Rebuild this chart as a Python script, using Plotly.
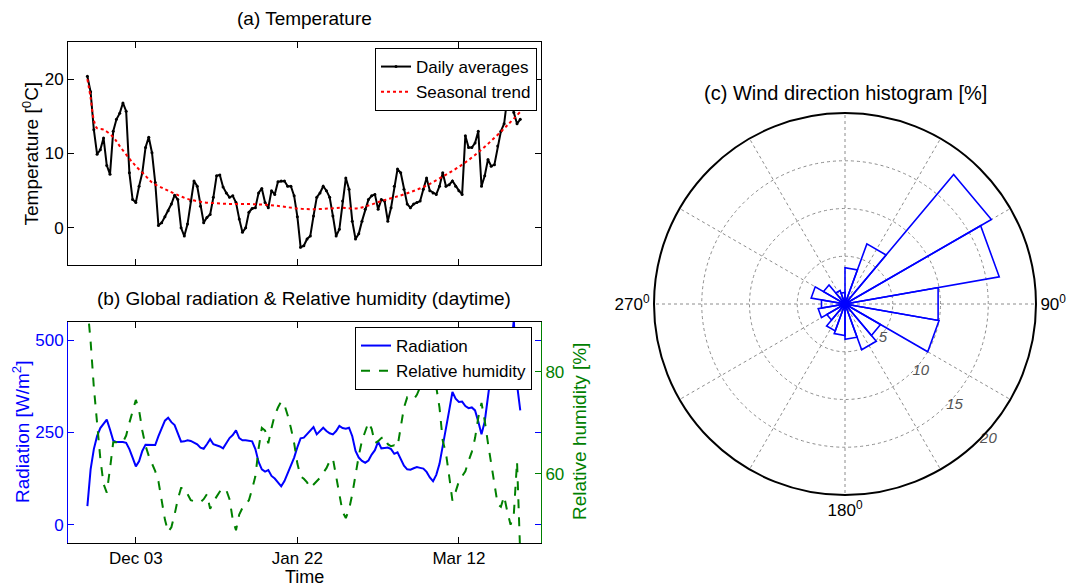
import pandas as pd
import plotly.graph_objects as go

# ---------------- data ----------------
dates = pd.date_range("2011-11-18", "2012-03-31", freq="D")

temperature = [
    20.4, 18.3, 13.2, 9.9, 10.5, 12.1, 8.4, 7.2, 13.0, 14.6, 15.4, 16.8, 15.7, 7.4, 3.8,
    3.4, 5.6, 7.4, 10.8, 12.2, 10.1, 6.1, 0.3, 0.7, 1.5,
    2.3, 3.2, 4.4, 3.8, 0.0, -1.1, 0.5, 3.6, 6.3, 5.6,
    2.9, 0.7, 1.4, 1.8, 4.1, 7.0, 7.1, 5.5, 4.7, 4.1,
    4.3, 3.4, 1.2, -0.6, 0.0, 2.1, 2.6, 2.7, 4.7, 5.3,
    3.4, 2.7, 5.0, 4.5, 6.2, 6.3, 6.3, 5.6, 5.6, 4.3,
    1.5, -2.6, -2.4, -1.5, -1.1, 1.6, 4.1, 4.7, 5.6, 5.0,
    4.1, 1.6, -1.1, -0.2, 3.6, 6.7, 5.2, 0.9, -1.5, -0.8,
    0.9, 2.5, 3.8, 4.3, 4.5, 2.5, 3.8, 3.6, 0.9, 2.7,
    5.6, 7.9, 7.4, 5.2, 3.2, 2.7, 3.2, 3.4, 3.6, 5.2,
    6.7, 5.0, 4.7, 4.5, 5.6, 7.4, 5.6, 5.8, 6.3, 5.6,
    5.0, 4.5, 12.4, 10.8, 10.8, 11.4, 13.0, 5.6, 7.0, 9.2,
    8.3, 8.5, 11.0, 13.0, 14.0, 17.5, 18.2, 15.5, 14.0, 14.6,
]

trend_dates = pd.to_datetime([
    "2011-11-18", "2011-11-19", "2011-11-20", "2011-11-21", "2011-11-23", "2011-11-26",
    "2011-11-28", "2011-12-01", "2011-12-03", "2011-12-06", "2011-12-08", "2011-12-11",
    "2011-12-13", "2011-12-16", "2011-12-19", "2011-12-23", "2011-12-28", "2012-01-02",
    "2012-01-07", "2012-01-12", "2012-01-17", "2012-01-22", "2012-01-27", "2012-02-01",
    "2012-02-05", "2012-02-09", "2012-02-13", "2012-02-17", "2012-02-21", "2012-02-26",
    "2012-03-02", "2012-03-07", "2012-03-12", "2012-03-17", "2012-03-22", "2012-03-27",
    "2012-03-31",
])
trend = [
    20.0, 17.5, 14.5, 13.4, 13.2, 12.2,
    11.0, 9.3, 8.3, 7.0, 6.1, 5.4,
    5.0, 4.4, 3.9, 3.5, 3.3, 3.2,
    3.2, 3.1, 2.9, 2.6, 2.5, 2.6,
    2.7, 2.6, 3.0, 3.6, 4.1, 4.8,
    5.7, 6.9, 8.2, 9.8, 11.7, 13.8,
    15.6,
]

radiation = [
    50, 150, 205, 240, 262, 274, 285, 258, 228, 224, 225, 224, 222, 205, 182,
    158, 172, 200, 217, 216, 216, 216, 240, 261, 282,
    290, 278, 270, 250, 225, 226, 229, 227, 222, 218,
    209, 206, 218, 232, 218, 216, 212, 207, 222, 235,
    243, 256, 235, 229, 229, 228, 226, 205, 170, 150,
    144, 148, 132, 125, 114, 104, 118, 140, 162, 182,
    210, 234, 236, 245, 254, 265, 245, 255, 263, 254,
    248, 245, 254, 268, 262, 260, 263, 240, 200, 182,
    173, 168, 174, 190, 202, 225, 207, 208, 209, 205,
    192, 196, 180, 160, 150, 149, 153, 156, 154, 152,
    143, 128, 118, 135, 165, 210, 255, 310, 360, 342,
    333, 334, 322, 316, 318, 310, 280, 245, 280, 345,
    414, 440, 455, 470, 382, 420, 470, 555, 380, 310,
]

humidity = [
    93, 86, 77, 70, 63, 58, 56.3, 61, 66.2, 66.2, 66.0, 66.2, 67.5, 70, 72.5,
    74.5, 72.5, 68.5, 65.5, 63.5, 62, 60.5, 58.5, 55, 51,
    48.6, 49.5, 52, 55, 57.2, 57.2, 56, 54.8, 54.6, 54.5,
    54.4, 55, 56, 53.1, 54.5, 55.5, 56.5, 57.2, 56.8, 55,
    51, 48.9, 52, 53.3, 54, 54.8, 57, 59.5, 65, 69,
    68.5, 66, 69, 71.5, 73, 74.2, 73.5, 71.5, 69, 66,
    62, 59.5, 59, 58.3, 57.2, 57.8, 58.4, 59.2, 60.2, 61.1,
    62.5, 63, 59.5, 56, 52.5, 51.3, 53, 56, 60, 63.5,
    66.5, 68.5, 70.1, 68.8, 66, 66.4, 67, 67.3, 65.8, 65.4,
    65.6, 65.3, 69.5, 73, 75, 74.8, 74.6, 75.5, 77, 78.2,
    80, 81, 80.2, 77, 73, 66.5, 64, 59.5, 54.7, 56.5,
    58.5, 59.5, 60.5, 62.5, 64.3, 67, 71, 73.9, 70.4, 66,
    62, 57.5, 54, 53.5, 55.6, 52.5, 50, 52, 62.4, 44,
]

# wind direction histogram: 18 sectors of 20 degrees, share of time in %
wind_bin_start = list(range(0, 360, 20))
wind_bin_width = 20
wind_percent = [3.8, 6.7, 17.7, 16.4, 9.9, 10.0, 4.3, 5.1, 3.7,
                3.3, 3.0, 2.2, 2.85, 2.5, 3.6, 2.6, 1.5, 1.2]
radial_ticks = [5, 10, 15, 20]
radial_max = 20
radial_label_direction = 135
spoke_angles = list(range(0, 360, 30))
labelled_angles = [90, 180, 270]

date_ticks = pd.to_datetime(["2011-12-03", "2012-01-22", "2012-03-12"])
date_tick_text = ["Dec 03", "Jan 22", "Mar 12"]

# ---------------- styling ----------------
FONT = "Liberation Sans, Arial, Helvetica, sans-serif"
TICK = 17
TITLE = 19
BLUE = "#0000ff"
GREEN = "#008000"
GRID = "#8c8c8c"
W, H = 1067, 586


def px_x(x):
    return x / W


def px_y(y):
    return (H - y) / H


fig = go.Figure()

# (a) temperature
fig.add_trace(go.Scatter(
    x=dates, y=temperature, mode="lines+markers", name="Daily averages",
    line=dict(color="black", width=2), marker=dict(color="black", size=3),
    xaxis="x", yaxis="y", legend="legend",
))
fig.add_trace(go.Scatter(
    x=trend_dates, y=trend, mode="lines", name="Seasonal trend",
    line=dict(color="red", width=2, dash="dot", shape="spline"),
    xaxis="x", yaxis="y", legend="legend",
))

# (b) radiation and humidity
fig.add_trace(go.Scatter(
    x=dates, y=radiation, mode="lines", name="Radiation",
    line=dict(color=BLUE, width=2), xaxis="x2", yaxis="y2", legend="legend2",
))
fig.add_trace(go.Scatter(
    x=dates, y=humidity, mode="lines", name="Relative humidity",
    line=dict(color=GREEN, width=2, dash="dash"), xaxis="x2", yaxis="y3",
    legend="legend2",
))

# (c) dotted spokes every 30 degrees
spoke_r, spoke_t = [], []
for a in spoke_angles:
    spoke_r += [0, radial_max, None]
    spoke_t += [a, a, None]
fig.add_trace(go.Scatterpolar(
    r=spoke_r, theta=spoke_t, mode="lines",
    line=dict(color=GRID, width=1, dash="dot"),
    showlegend=False, hoverinfo="skip", connectgaps=False, subplot="polar",
))

# (c) rose: one closed wedge outline per sector
rose_r, rose_t = [], []
for start, pct in zip(wind_bin_start, wind_percent):
    rose_r += [0, pct, pct, 0, None]
    rose_t += [start, start, start + wind_bin_width, start + wind_bin_width, None]
fig.add_trace(go.Scatterpolar(
    r=rose_r, theta=rose_t, mode="lines", line=dict(color=BLUE, width=1.6),
    showlegend=False, connectgaps=False, subplot="polar",
))
# radial ring labels, upright, next to each ring
fig.add_trace(go.Scatterpolar(
    r=radial_ticks, theta=[radial_label_direction] * len(radial_ticks),
    mode="text", text=[str(t) for t in radial_ticks], textposition="middle right",
    textfont=dict(family=FONT, size=15, color="#555555", style="italic"),
    showlegend=False, hoverinfo="skip", cliponaxis=False, subplot="polar",
))

x_dom = [px_x(68), px_x(541)]
x_range = ["2011-11-12", "2012-04-06 10:00"]

common_axis = dict(
    showline=True, linecolor="black", linewidth=1, mirror="ticks",
    ticks="inside", ticklen=6, tickcolor="black", showgrid=False,
    zeroline=False, tickfont=dict(family=FONT, size=TICK, color="black"),
)

fig.update_layout(
    width=W, height=H, margin=dict(l=0, r=0, t=0, b=0),
    paper_bgcolor="white", plot_bgcolor="white",
    font=dict(family=FONT, size=TICK, color="black"),
    xaxis=dict(domain=x_dom, anchor="y", type="date", range=x_range,
               tickvals=date_ticks, showticklabels=False, **common_axis),
    yaxis=dict(domain=[px_y(265), px_y(42)], anchor="x", range=[-5, 25],
               tickvals=[0, 10, 20], **common_axis),
    xaxis2=dict(domain=x_dom, anchor="y2", type="date", range=x_range,
                tickvals=date_ticks, ticktext=date_tick_text, **common_axis),
    yaxis2=dict(domain=[px_y(543), px_y(322)], anchor="x2", range=[-50, 550],
                tickvals=[0, 250, 500], showline=True, linecolor=BLUE,
                mirror="ticks", ticks="inside", ticklen=6, tickcolor=BLUE,
                showgrid=False, zeroline=False,
                tickfont=dict(family=FONT, size=TICK, color=BLUE)),
    yaxis3=dict(overlaying="y2", anchor="x2", side="right", range=[46.4, 89.8],
                tickvals=[60, 80], showline=True, linecolor=GREEN, ticks="inside",
                ticklen=6, tickcolor=GREEN, showgrid=False, zeroline=False,
                tickfont=dict(family=FONT, size=TICK, color=GREEN)),
    legend=dict(x=px_x(537), y=px_y(48), xanchor="right", yanchor="top",
                bgcolor="white", bordercolor="black", borderwidth=1,
                font=dict(family=FONT, size=TICK), tracegroupgap=0),
    legend2=dict(x=px_x(532), y=px_y(327), xanchor="right", yanchor="top",
                 bgcolor="white", bordercolor="black", borderwidth=1,
                 font=dict(family=FONT, size=TICK), tracegroupgap=0),
    polar=dict(
        domain=dict(x=[px_x(654), px_x(1036)], y=[px_y(495), px_y(113)]),
        bgcolor="white",
        angularaxis=dict(
            rotation=90, direction="clockwise", tickmode="array",
            tickvals=labelled_angles,
            ticktext=[f"{a}<sup>0</sup>" for a in labelled_angles],
            showline=True, linecolor="black", linewidth=2, ticks="",
            showgrid=False,
            tickfont=dict(family=FONT, size=TICK, color="black"),
        ),
        radialaxis=dict(
            range=[0, radial_max], tickvals=radial_ticks, showticklabels=False,
            showline=False, ticks="", showgrid=True, gridcolor=GRID,
            griddash="dot", gridwidth=1,
        ),
    ),
)

annotations = [
    dict(text="(a) Temperature", x=px_x(304), y=px_y(18), size=TITLE, color="black", angle=0),
    dict(text="(b) Global radiation &amp; Relative humidity (daytime)", x=px_x(304),
         y=px_y(298), size=TITLE, color="black", angle=0),
    dict(text="(c) Wind direction histogram [%]", x=px_x(845), y=px_y(93),
         size=20, color="black", angle=0),
    dict(text="Temperature [<sup>0</sup>C]", x=px_x(31), y=px_y(153.5), size=TITLE,
         color="black", angle=-90),
    dict(text="Radiation [W/m<sup>2</sup>]", x=px_x(21), y=px_y(432), size=TITLE,
         color=BLUE, angle=-90),
    dict(text="Relative humidity [%]", x=px_x(579), y=px_y(432), size=TITLE,
         color=GREEN, angle=-90),
    dict(text="Time", x=px_x(304), y=px_y(577), size=18, color="black", angle=0),
]
for a in annotations:
    fig.add_annotation(
        text=a["text"], x=a["x"], y=a["y"], xref="paper", yref="paper",
        xanchor="center", yanchor="middle", showarrow=False, textangle=a["angle"],
        font=dict(family=FONT, size=a["size"], color=a["color"]),
    )

fig.write_html("out.html")
